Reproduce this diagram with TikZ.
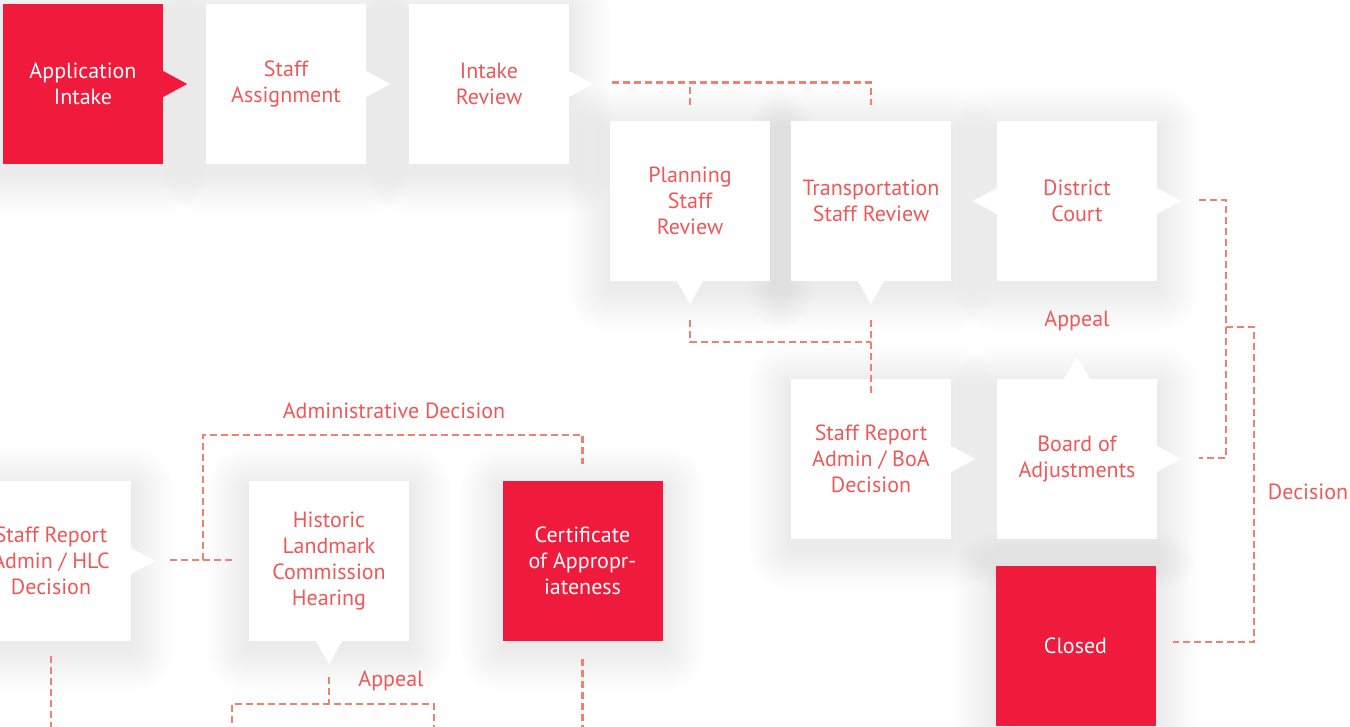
\documentclass[tikz,border=0pt]{standalone}
\usepackage{fontspec}
\setmainfont{PT Sans}
\definecolor{boxred}{RGB}{239,26,60}
\definecolor{txt}{RGB}{240,88,88}
\definecolor{dashc}{RGB}{240,128,112}
\pgfdeclarelayer{shadowlayer}
\pgfsetlayers{shadowlayer,main}
\tikzset{
  pbox/.style={rectangle, minimum width=160pt, minimum height=160pt, inner sep=0pt,
    align=center, font=\fontsize{22}{26}\selectfont, text=txt, fill=white},
  rbox/.style={pbox, fill=boxred, text=white},
  link/.style={draw=dashc, line width=2.2pt, dash pattern=on 7pt off 4pt},
  lbl/.style={text=txt, font=\fontsize{22}{24}\selectfont, inner sep=0pt}
}
\newcommand\rnotch[2]{\fill[#2] ([yshift=13pt]#1.east) -- ([xshift=24pt]#1.east) -- ([yshift=-13pt]#1.east) -- cycle;}
\newcommand\lnotch[2]{\fill[#2] ([yshift=13pt]#1.west) -- ([xshift=-24pt]#1.west) -- ([yshift=-13pt]#1.west) -- cycle;}
\newcommand\bnotch[2]{\fill[#2] ([xshift=-13pt]#1.south) -- ([yshift=-23pt]#1.south) -- ([xshift=13pt]#1.south) -- cycle;}
\newcommand\tnotch[2]{\fill[#2] ([xshift=-13pt]#1.north) -- ([yshift=22pt]#1.north) -- ([xshift=13pt]#1.north) -- cycle;}
\newcommand\softshadow[1]{\foreach \i in {1,...,20}{\fill[black,opacity=0.0042,rounded corners=\i*2pt]
  ([xshift=-\i*2.1pt,yshift=-\i*2.1pt-8pt]#1.south west) rectangle ([xshift=\i*2.1pt,yshift=\i*2.1pt-8pt]#1.north east);}}
\begin{document}
\begin{tikzpicture}[x=1pt,y=-1pt]
\useasboundingbox (0,0) rectangle (1350,726);
% boxes
\node[rbox] (app) at (83,84) {Application\\Intake};
\node[pbox] (staff) at (286,84) {Staff\\Assignment};
\node[pbox] (intake) at (489,84) {Intake\\Review};
\node[pbox] (plan) at (690,201) {Planning\\Staff\\Review};
\node[pbox] (trans) at (871,201) {Transportation\\Staff Review};
\node[pbox] (court) at (1077,201) {District\\Court};
\node[pbox] (sra) at (871,459) {Staff Report\\Admin / BoA\\Decision};
\node[pbox] (boa) at (1077,459) {Board of\\Adjustments};
\node[rbox] (closed) at (1075.5,646) {Closed};
\node[pbox] (srh) at (51,561) {Staff Report\\Admin / HLC\\Decision};
\node[pbox] (hlc) at (329,561) {Historic\\Landmark\\Commission\\Hearing};
\node[rbox] (coa) at (582.5,561) {Certificate\\of Appropr-\\iateness};
\begin{pgfonlayer}{shadowlayer}
\fill[white] (0,0) rectangle (1350,726);
\foreach \n in {app,staff,intake,plan,trans,court,sra,boa,closed,srh,hlc,coa}{\softshadow{\n}}
\end{pgfonlayer}
% notches
\rnotch{app}{boxred}
\rnotch{staff}{white}
\rnotch{intake}{white}
\bnotch{plan}{white}
\bnotch{trans}{white}
\lnotch{court}{white}
\rnotch{court}{white}
\rnotch{sra}{white}
\tnotch{boa}{white}
\rnotch{boa}{white}
\rnotch{srh}{white}
\bnotch{hlc}{white}
% labels
\node[lbl] (appeal1) at (1077,321) {Appeal};
\node[lbl] (admdec) at (394,411) {Administrative Decision};
\node[lbl] (decision) at (1308,492) {Decision};
\node[lbl] (appeal2) at (391,681) {Appeal};
% connectors
\draw[link] ([xshift=43pt,yshift=1.5pt]intake.east) -| ([yshift=16pt]trans.north);
\draw[link] ([yshift=16pt]plan.north) -- ([yshift=1.5pt]plan.north |- intake.east);
\draw[link] ([yshift=-39pt]plan.south) |- ([yshift=-61pt]trans.south);
\draw[link] ([yshift=-39pt]trans.south) -- ([yshift=-15pt]sra.north);
\coordinate (cr) at ([xshift=42pt,yshift=1pt]court.east);
\coordinate (br) at ([xshift=42pt,yshift=1pt]boa.east);
\draw[link] (cr) -- ++(27,0) |- (br);
\coordinate (dmid) at (1226,327);
\draw[link] (dmid) -- ++(28,0) |- ([xshift=17pt,yshift=4pt]closed.east);
\draw[link] ([xshift=39pt,yshift=1pt]srh.east) -- ([xshift=-14pt,yshift=1pt]hlc.west);
\coordinate (adm) at (203,560);
\draw[link] (adm) |- ([yshift=46pt]coa.north) -- ([yshift=17pt]coa.north);
\draw[link] ([yshift=-36pt]hlc.south) -- ([yshift=-63pt]hlc.south);
\coordinate (hl) at ([xshift=-97pt,yshift=-63pt]hlc.south);
\coordinate (hr) at ([xshift=105pt,yshift=-63pt]hlc.south);
\draw[link] ([yshift=-30pt]hl) -- (hl) -- (hr) -- ([yshift=-30pt]hr);
\draw[link] ([yshift=-15pt]srh.south) -- ++(0,80);
\draw[link] ([yshift=-18pt]coa.south) -- ++(0,80);
\end{tikzpicture}
\end{document}
